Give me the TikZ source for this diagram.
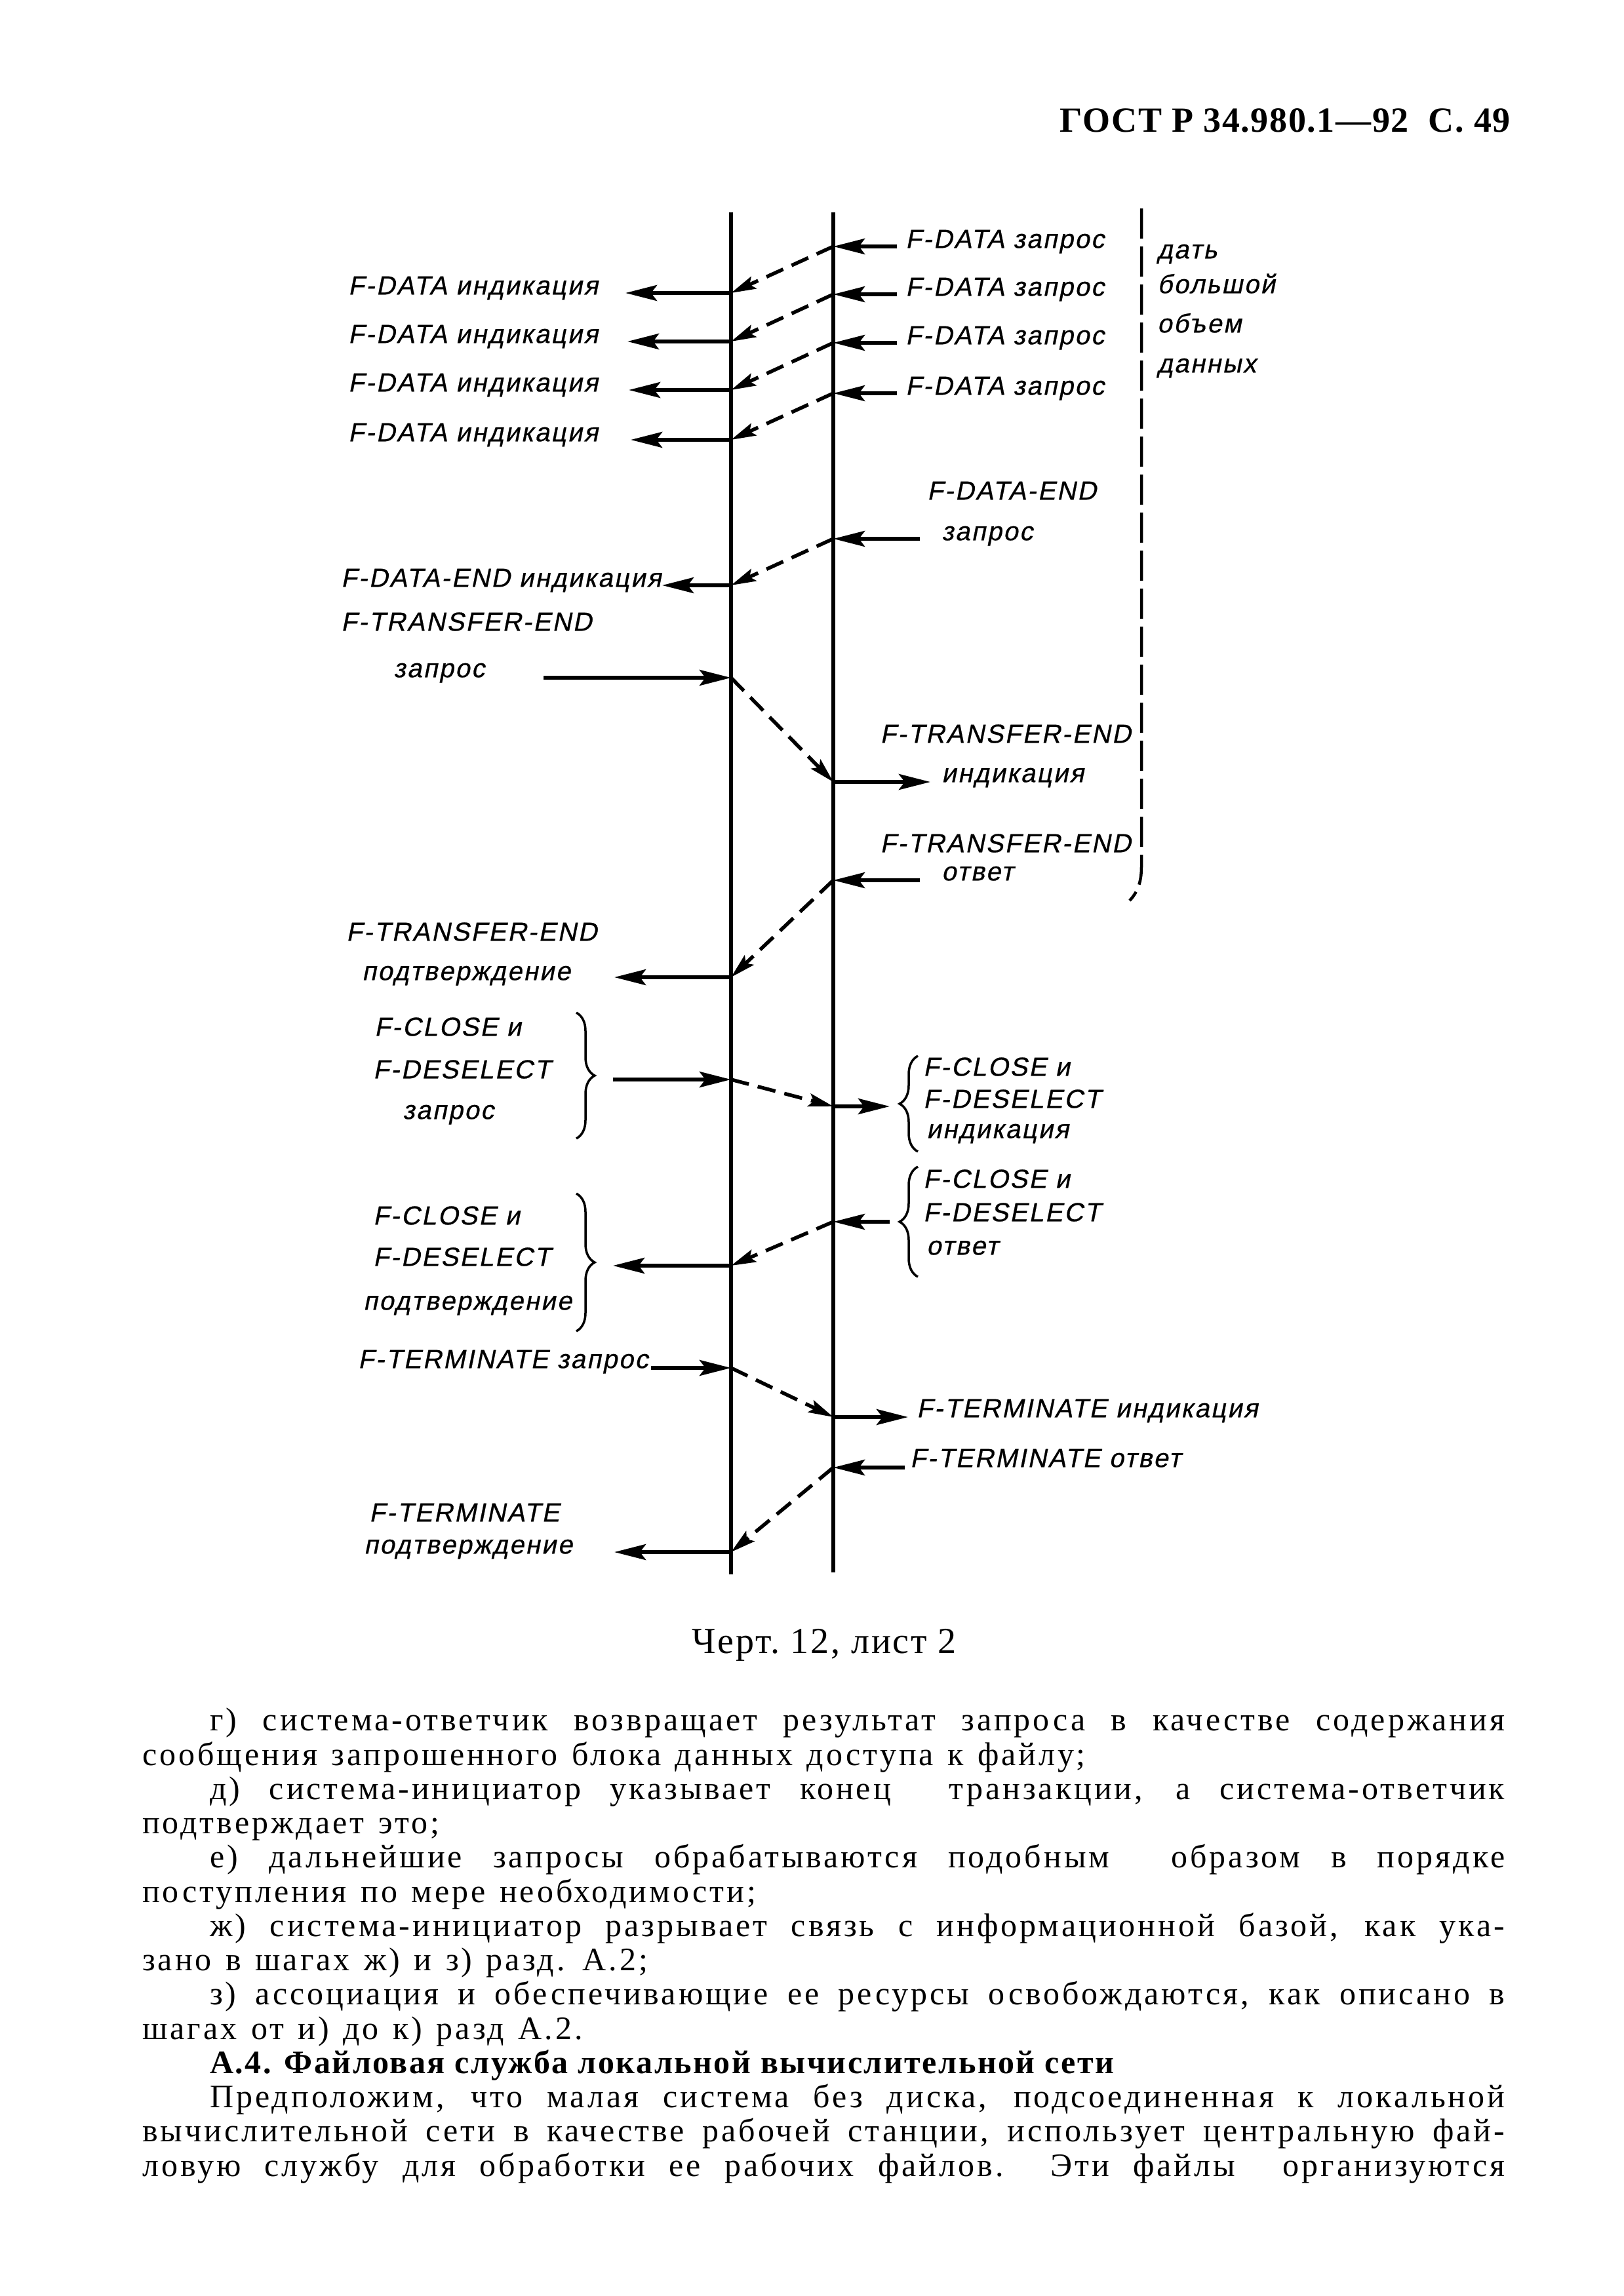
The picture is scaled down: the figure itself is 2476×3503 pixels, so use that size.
\documentclass[tikz,border=0pt]{standalone}
\usepackage{fontspec}
\setmainfont{Liberation Serif}
\newfontfamily\bodyfont[LetterSpace=8,WordSpace=1.3]{Liberation Serif}
\newfontfamily\headfont[LetterSpace=5]{Liberation Serif}
\newfontfamily\hdrfont[LetterSpace=3]{Liberation Serif}
\newfontfamily\lab[FakeSlant=0.2,LetterSpace=6,FakeBold=0.6]{Liberation Sans}
\usetikzlibrary{arrows.meta,decorations.pathreplacing}
\newcommand\jline[1]{\makebox[2078pt][s]{#1}}
\newcommand\jind[1]{\hspace*{103pt}\makebox[1975pt][s]{#1}}
\newcommand\pind{\hspace*{103pt}}
\begin{document}
\begin{tikzpicture}[x=1pt,y=-1pt,
  lifeline/.style={line width=5.5pt},
  msg/.style={line width=6pt,-{Stealth[length=48pt,width=24pt,inset=9pt]}},
  relay/.style={line width=5.5pt,dash pattern=on 28pt off 14pt,-{Stealth[length=38pt,width=20pt,inset=7pt]}},
  lbl/.style={font=\lab\fontsize{40}{46}\selectfont,inner sep=0pt,anchor=mid west},
  lble/.style={lbl,anchor=mid east},
  grp/.style={line width=3.5pt,decorate,decoration={brace,amplitude=28pt,aspect=0.5}},
  bracket/.style={line width=4.5pt,dash pattern=on 46pt off 12pt},
]
\fill[white] (0,0) rectangle (2476,3503);
\useasboundingbox (0,0) rectangle (2476,3503);

% header
\node[anchor=base east,inner sep=0pt,font=\hdrfont\bfseries\fontsize{54}{60}\selectfont] (hdr) at (2304,201) {ГОСТ Р 34.980.1—92\ \ С.\ 49};

% lifelines
\coordinate (Ltop) at (1115,324); \coordinate (Lbot) at (1115,2402);
\coordinate (Rtop) at (1271,324); \coordinate (Rbot) at (1271,2399);
\draw[lifeline] (Ltop) -- (Lbot);
\draw[lifeline] (Rtop) -- (Rbot);

% dashed bracket on the right
\coordinate (Btop) at (1741,318); \coordinate (Bmid) at (1741,1322); \coordinate (Bend) at (1723,1374);
\draw[bracket] (Btop) -- (Bmid) .. controls (1741,1348) and (1734,1362) .. (Bend);
\node[lbl] (n1) at (1765,392) {дать};
\node[lbl] (n2) at (1765,445) {большой};
\node[lbl] (n3) at (1765,505) {объем};
\node[lbl] (n4) at (1765,566) {данных};

% F-DATA rows
\foreach \i/\ry/\ly/\tip in {1/376/447/954, 2/449/521/957, 3/523/595/959, 4/600/671/962}{
  \node[lbl] (dreq\i) at (1381,\ry) {F-DATA запрос};
  \coordinate (dreqR\i) at (1271,\ry);
  \coordinate (dreqT\i) at (1368,\ry);
  \node[lbl] (dind\i) at (531,\ly) {F-DATA индикация};
  \coordinate (dindL\i) at (1115,\ly);
  \coordinate (dindT\i) at (\tip,\ly);
  \draw[msg] (dreqT\i) -- (dreqR\i);
  \draw[relay] (dreqR\i) -- (dindL\i);
  \draw[msg] (dindL\i) -- (dindT\i);
}

% F-DATA-END
\node[lbl] (der1) at (1414,760) {F-DATA-END};
\node[lbl] (der2) at (1436,822) {запрос};
\coordinate (derT) at (1403,822); \coordinate (derR) at (1271,822);
\node[lbl] (dei) at (520,893) {F-DATA-END индикация};
\coordinate (deiL) at (1115,893); \coordinate (deiT) at (1010,893);
\draw[msg] (derT) -- (derR);
\draw[relay] (derR) -- (deiL);
\draw[msg] (deiL) -- (deiT);

% F-TRANSFER-END request / indication
\node[lbl] (ter1) at (520,960) {F-TRANSFER-END};
\node[lbl] (ter2) at (600,1031) {запрос};
\coordinate (terT) at (829,1034); \coordinate (terL) at (1115,1034);
\node[lble] (tei1) at (1725,1131) {F-TRANSFER-END};
\node[lbl] (tei2) at (1436,1191) {индикация};
\coordinate (teiR) at (1271,1193); \coordinate (teiT) at (1419,1193);
\draw[msg] (terT) -- (terL);
\draw[relay] (terL) -- (teiR);
\draw[msg] (teiR) -- (teiT);

% F-TRANSFER-END response / confirmation
\node[lble] (tes1) at (1725,1298) {F-TRANSFER-END};
\node[lbl] (tes2) at (1436,1341) {ответ};
\coordinate (tesT) at (1403,1343); \coordinate (tesR) at (1271,1343);
\node[lbl] (tec1) at (528,1433) {F-TRANSFER-END};
\node[lbl] (tec2) at (552,1493) {подтверждение};
\coordinate (tecL) at (1115,1491); \coordinate (tecT) at (937,1491);
\draw[msg] (tesT) -- (tesR);
\draw[relay] (tesR) -- (tecL);
\draw[msg] (tecL) -- (tecT);

% F-CLOSE / F-DESELECT request
\node[lbl] (cq1) at (571,1578) {F-CLOSE и};
\node[lbl] (cq2) at (569,1643) {F-DESELECT};
\node[lbl] (cq3) at (614,1705) {запрос};
\coordinate (cqa) at (879,1545); \coordinate (cqb) at (879,1737);
\draw[grp] (cqa) -- (cqb);
\coordinate (cqT) at (935,1647); \coordinate (cqL) at (1115,1647);
% indication
\node[lbl] (ci1) at (1408,1639) {F-CLOSE и};
\node[lbl] (ci2) at (1408,1688) {F-DESELECT};
\node[lbl] (ci3) at (1413,1734) {индикация};
\coordinate (cia) at (1400,1757); \coordinate (cib) at (1400,1611);
\draw[grp] (cia) -- (cib);
\coordinate (ciR) at (1271,1688); \coordinate (ciT) at (1357,1688);
\draw[msg] (cqT) -- (cqL);
\draw[relay] (cqL) -- (ciR);
\draw[msg] (ciR) -- (ciT);

% F-CLOSE / F-DESELECT response
\node[lbl] (cs1) at (1408,1810) {F-CLOSE и};
\node[lbl] (cs2) at (1408,1861) {F-DESELECT};
\node[lbl] (cs3) at (1413,1912) {ответ};
\coordinate (csa) at (1400,1948); \coordinate (csb) at (1400,1780);
\draw[grp] (csa) -- (csb);
\coordinate (csT) at (1357,1864); \coordinate (csR) at (1271,1864);
% confirmation
\node[lbl] (cc1) at (569,1866) {F-CLOSE и};
\node[lbl] (cc2) at (569,1929) {F-DESELECT};
\node[lbl] (cc3) at (554,1996) {подтверждение};
\coordinate (cca) at (879,1821); \coordinate (ccb) at (879,2031);
\draw[grp] (cca) -- (ccb);
\coordinate (ccL) at (1115,1931); \coordinate (ccT) at (935,1931);
\draw[msg] (csT) -- (csR);
\draw[relay] (csR) -- (ccL);
\draw[msg] (ccL) -- (ccT);

% F-TERMINATE request / indication
\node[lbl] (mq) at (546,2085) {F-TERMINATE запрос};
\coordinate (mqT) at (993,2087); \coordinate (mqL) at (1115,2087);
\node[lbl] (mi) at (1398,2160) {F-TERMINATE индикация};
\coordinate (miR) at (1271,2162); \coordinate (miT) at (1385,2162);
\draw[msg] (mqT) -- (mqL);
\draw[relay] (mqL) -- (miR);
\draw[msg] (miR) -- (miT);

% F-TERMINATE response / confirmation
\node[lbl] (ms) at (1388,2236) {F-TERMINATE ответ};
\coordinate (msT) at (1380,2239); \coordinate (msR) at (1271,2239);
\node[lbl] (mc1) at (563,2319) {F-TERMINATE};
\node[lbl] (mc2) at (555,2368) {подтверждение};
\coordinate (mcL) at (1115,2368); \coordinate (mcT) at (937,2368);
\draw[msg] (msT) -- (msR);
\draw[relay] (msR) -- (mcL);
\draw[msg] (mcL) -- (mcT);

% caption
\node[anchor=base,inner sep=0pt,font=\headfont\fontsize{56}{60}\selectfont] (cap) at (1257,2522) {Черт.\ 12,\ лист\ 2};

% body text
\node[anchor=north west,inner sep=0pt,align=left,font=\bodyfont\fontsize{50}{52.25}\selectfont] (body) at (217,2606) {%
\jind{г) система-ответчик возвращает результат запроса в качестве содержания}\\
сообщения запрошенного блока данных доступа к файлу;\\
\jind{д) система-инициатор указывает конец\ \ транзакции, а система-ответчик}\\
подтверждает это;\\
\jind{е) дальнейшие запросы обрабатываются подобным\ \ образом в порядке}\\
поступления по мере необходимости;\\
\jind{ж) система-инициатор разрывает связь с информационной базой, как ука-}\\
зано в шагах ж) и з) разд. А.2;\\
\jind{з) ассоциация и обеспечивающие ее ресурсы освобождаются, как описано в}\\
шагах от и) до к) разд А.2.\\
\pind{\headfont\bfseries А.4. Файловая служба локальной вычислительной сети}\\
\jind{Предположим, что малая система без диска, подсоединенная к локальной}\\
\jline{вычислительной сети в качестве рабочей станции, использует центральную фай-}\\
\jline{ловую службу для обработки ее рабочих файлов. Эти файлы\ \ организуются}
};
\end{tikzpicture}
\end{document}
